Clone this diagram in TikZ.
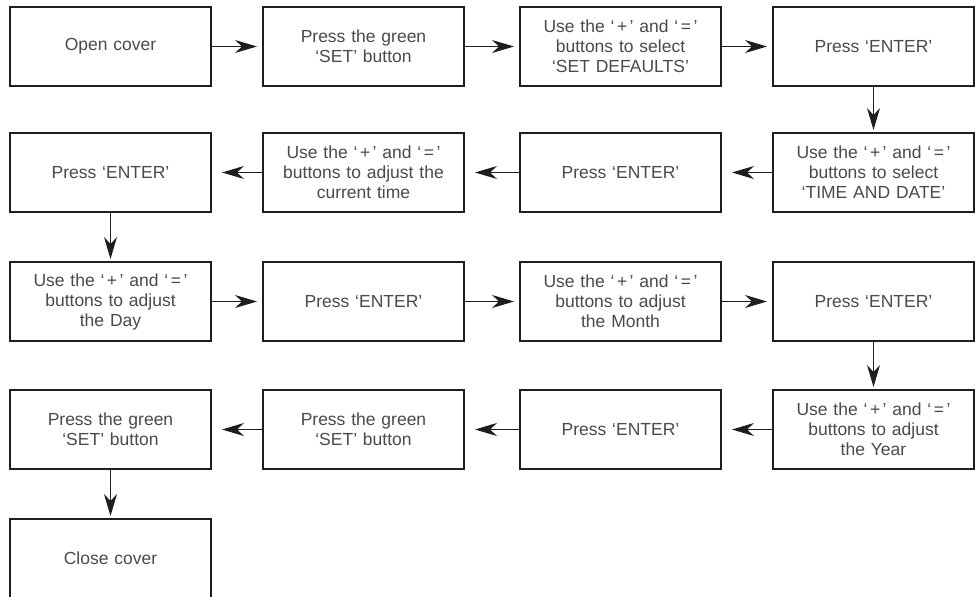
\documentclass[tikz,border=0pt]{standalone}
\usepackage{fontspec}
\setmainfont{Liberation Sans}
\usetikzlibrary{arrows.meta}
\definecolor{txt}{HTML}{4A4A4A}
\definecolor{edge}{HTML}{1E1E1E}
\newcommand{\plq}{‘\kern2.5pt+\kern2.5pt’}
\newcommand{\eqq}{‘\kern2.5pt=\kern2.5pt’}
\tikzset{
  stepbox/.style={draw=edge, line width=2.5pt, fill=white, anchor=north west,
    minimum width=201pt, minimum height=79pt, outer sep=0pt, inner sep=2pt,
    text width=192pt, align=center, text=txt,
    font=\fontsize{17.5}{20}\selectfont},
  arr/.style={-{Stealth[length=22pt,width=13pt,inset=7pt]}, line width=1.1pt, draw=edge},
  rarr/.style={arr, shorten >=6pt},
  larr/.style={arr, shorten >=11pt},
  darr/.style={arr, shorten >=3pt}
}
\begin{document}
\begin{tikzpicture}[x=1pt,y=-1pt]
\useasboundingbox (0,0) rectangle (975,597);
% row 1
\node[stepbox] (a1) at (10,7) {Open cover};
\node[stepbox] (a2) at (263,7) {Press the green\\‘SET’ button};
\node[stepbox] (a3) at (520,7) {Use the \plq{} and \eqq\\buttons to select\\‘SET DEFAULTS’};
\node[stepbox] (a4) at (773,7) {Press ‘ENTER’};
% row 2
\node[stepbox] (b4) at (773,133) {Use the \plq{} and \eqq\\buttons to select\\‘TIME AND DATE’};
\node[stepbox] (b3) at (520,133) {Press ‘ENTER’};
\node[stepbox] (b2) at (263,133) {Use the \plq{} and \eqq\\buttons to adjust the\\current time};
\node[stepbox] (b1) at (10,133) {Press ‘ENTER’};
% row 3
\node[stepbox] (c1) at (10,262) {Use the \plq{} and \eqq\\buttons to adjust\\the Day};
\node[stepbox] (c2) at (263,262) {Press ‘ENTER’};
\node[stepbox] (c3) at (520,262) {Use the \plq{} and \eqq\\buttons to adjust\\the Month};
\node[stepbox] (c4) at (773,262) {Press ‘ENTER’};
% row 4
\node[stepbox] (d4) at (773,390) {Use the \plq{} and \eqq\\buttons to adjust\\the Year};
\node[stepbox] (d3) at (520,390) {Press ‘ENTER’};
\node[stepbox] (d2) at (263,390) {Press the green\\‘SET’ button};
\node[stepbox] (d1) at (10,390) {Press the green\\‘SET’ button};
% row 5
\node[stepbox] (e1) at (10,519) {Close cover};
% connectors
\draw[rarr] (a1) -- (a2);
\draw[rarr] (a2) -- (a3);
\draw[rarr] (a3) -- (a4);
\draw[darr] (a4) -- (b4);
\draw[larr] (b4) -- (b3);
\draw[larr] (b3) -- (b2);
\draw[larr] (b2) -- (b1);
\draw[darr] (b1) -- (c1);
\draw[rarr] (c1) -- (c2);
\draw[rarr] (c2) -- (c3);
\draw[rarr] (c3) -- (c4);
\draw[darr] (c4) -- (d4);
\draw[larr] (d4) -- (d3);
\draw[larr] (d3) -- (d2);
\draw[larr] (d2) -- (d1);
\draw[darr] (d1) -- (e1);
\end{tikzpicture}
\end{document}
